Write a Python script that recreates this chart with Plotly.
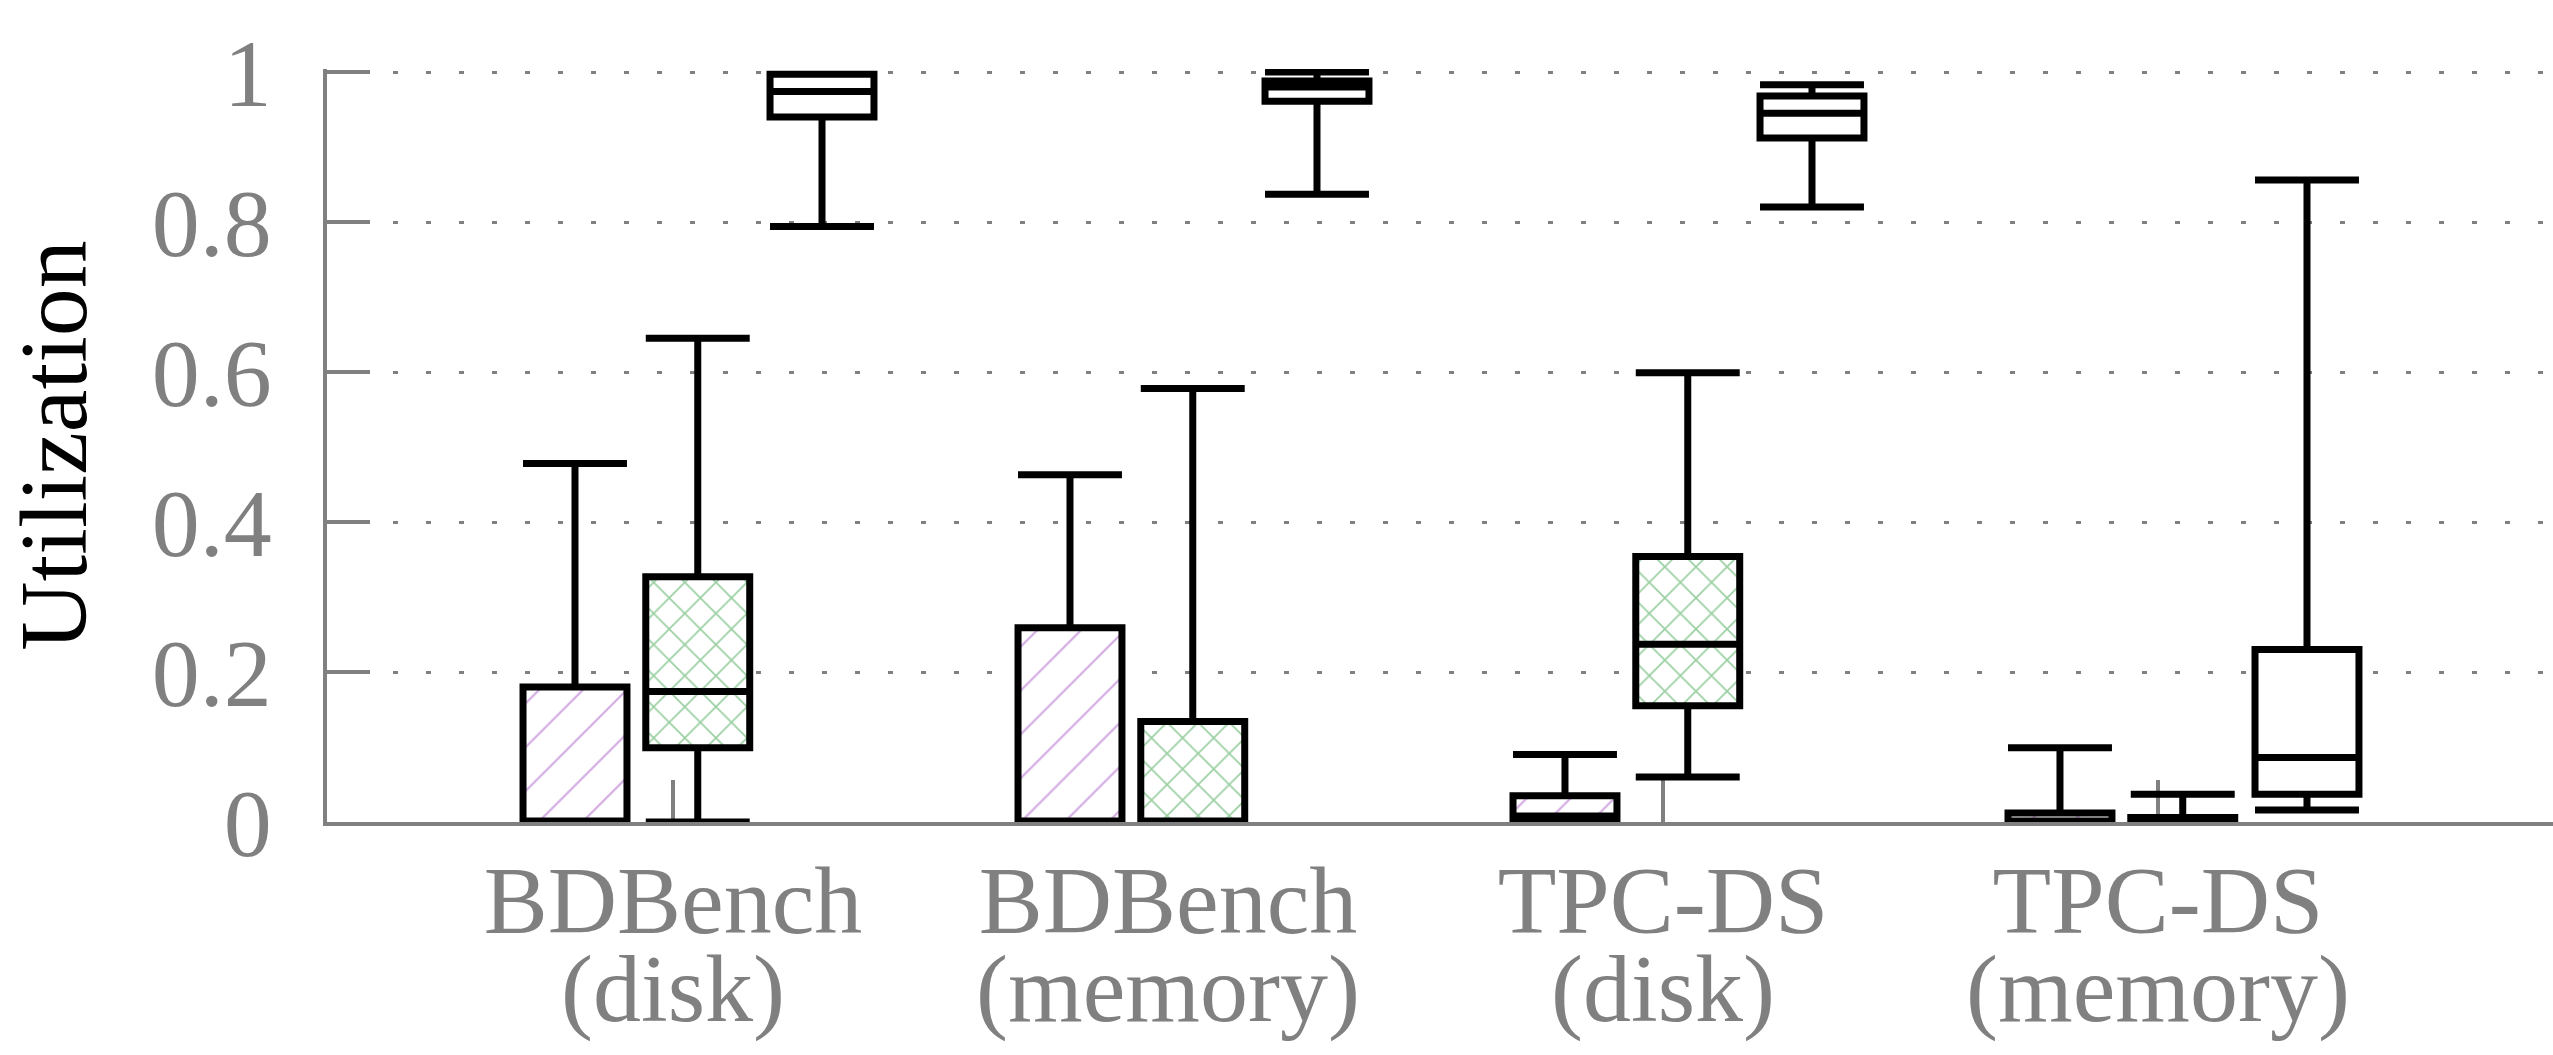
import plotly.graph_objects as go

# ---------------- data ----------------
cat_line1 = ["BDBench", "BDBench", "TPC-DS", "TPC-DS"]
cat_line2 = ["(disk)", "(memory)", "(disk)", "(memory)"]

# hatched (purple) series
a_min = [0.0, 0.0, 0.0, 0.0]
a_q1 = [0.0, 0.0, 0.0, 0.0]
a_med = [0.0, 0.0, 0.008, 0.0]
a_q3 = [0.18, 0.259, 0.035, 0.012]
a_max = [0.478, 0.463, 0.09, 0.099]

# cross-hatched (green) series
b_min = [0.0, 0.0, 0.06, 0.0]
b_q1 = [0.099, 0.0, 0.155, 0.0]
b_med = [0.174, 0.0, 0.237, 0.003]
b_q3 = [0.327, 0.134, 0.354, 0.006]
b_max = [0.645, 0.578, 0.599, 0.037]

# plain (white) series
c_min = [0.794, 0.837, 0.82, 0.016]
c_q1 = [0.94, 0.961, 0.912, 0.037]
c_med = [0.974, 0.98, 0.945, 0.086]
c_q3 = [0.997, 0.988, 0.968, 0.23]
c_max = [0.997, 1.0, 0.983, 0.856]

y_tickvals = [0, 0.2, 0.4, 0.6, 0.8, 1.0]
y_ticktext = ["0", "0.2", "0.4", "0.6", "0.8", "1"]
y_title = "Utilization"

# ---------------- style ----------------
FONT = "Liberation Serif"
GRAY = "#808080"
BOX_W = 0.21
OFFSETS = [-0.198, 0.05, 0.301]
PURPLE = "#a855c8"
GREEN = "#34a043"
Y_TOP = 1.004

idx = list(range(len(cat_line1)))

fig = go.Figure()

series = [
    (a_min, a_q1, a_med, a_q3, a_max, OFFSETS[0], dict(shape="/", fgcolor=PURPLE, bgcolor="white", size=31, solidity=0.07)),
    (b_min, b_q1, b_med, b_q3, b_max, OFFSETS[1], dict(shape="x", fgcolor=GREEN, bgcolor="white", size=22, solidity=0.15)),
    (c_min, c_q1, c_med, c_q3, c_max, OFFSETS[2], None),
]

for mn, q1, md, q3, mx, off, pat in series:
    xs = [i + off for i in idx]
    if pat is not None:
        fig.add_trace(go.Bar(
            x=xs, y=[b - a for a, b in zip(q1, q3)], base=q1, width=BOX_W,
            marker=dict(color="white", line=dict(width=0), pattern=pat),
            hoverinfo="skip", showlegend=False))
    fig.add_trace(go.Box(
        x=xs, q1=q1, median=md, q3=q3, lowerfence=mn, upperfence=mx,
        width=BOX_W, whiskerwidth=1, boxpoints=False,
        line=dict(color="black", width=7),
        fillcolor="rgba(0,0,0,0)" if pat is not None else "white",
        hoverinfo="skip", showlegend=False))

for i in idx:
    fig.add_annotation(x=i, y=-0.148, xref="x", yref="paper", text=cat_line2[i],
                       showarrow=False, yanchor="top", xanchor="center",
                       font=dict(family=FONT, size=96, color=GRAY))

fig.update_layout(
    width=2553, height=1055,
    margin=dict(l=327, r=0, t=69, b=233),
    paper_bgcolor="white", plot_bgcolor="white",
    barmode="overlay", boxmode="overlay",
    showlegend=False,
    xaxis=dict(range=[-0.699, 3.798], tickvals=idx, ticktext=cat_line1,
               ticks="inside", ticklen=42, tickwidth=4, tickcolor=GRAY,
               showline=True, linecolor=GRAY, linewidth=4,
               showgrid=False, zeroline=False, layer="below traces",
               tickfont=dict(family=FONT, size=96, color=GRAY),
               ticklabelstandoff=-8),
    yaxis=dict(range=[0, Y_TOP], tickvals=y_tickvals, ticktext=y_ticktext,
               ticks="inside", ticklen=43, tickwidth=4, tickcolor=GRAY,
               showline=True, linecolor=GRAY, linewidth=4,
               showgrid=True, gridcolor=GRAY, gridwidth=3, griddash="5px,28px",
               zeroline=False, layer="below traces",
               tickfont=dict(family=FONT, size=96, color=GRAY),
               ticklabelstandoff=32,
               title=dict(text=y_title, font=dict(family=FONT, size=96, color="black"), standoff=58)),
)

fig.write_html("out.html")
